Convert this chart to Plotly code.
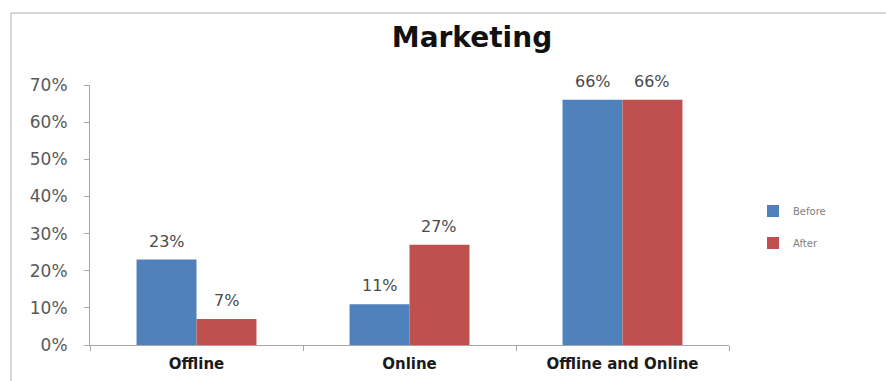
import plotly.graph_objects as go

# Chart data
categories = ["Offline", "Online", "Offline and Online"]
before_values = [0.23, 0.11, 0.66]
after_values = [0.07, 0.27, 0.66]
series_names = ["Before", "After"]
y_ticks = [0.0, 0.1, 0.2, 0.3, 0.4, 0.5, 0.6, 0.7]

BLUE = "#4F81BD"
RED = "#C0504D"
FONT = "DejaVu Sans"

W, H = 886, 381
L, R, T, B = 90, 157, 85, 36
plot_w = W - L - R
plot_h = H - T - B
BARGAP = 0.437


def px_to_paper_x(px):
    return (px - L) / plot_w


def px_to_paper_y(py):
    return (H - B - py) / plot_h


fig = go.Figure()
for name, vals, color in zip(series_names, [before_values, after_values], [BLUE, RED]):
    fig.add_trace(go.Bar(
        x=categories,
        y=vals,
        name=name,
        legendgroup=name,
        marker=dict(color=color, line=dict(width=0)),
        cliponaxis=False,
    ))

# Value labels above each bar, offset to the bar's slot within its group
bar_px = plot_w / len(categories) * (1 - BARGAP) / len(series_names)
for i, vals in enumerate([before_values, after_values]):
    offset = (i - (len(series_names) - 1) / 2) * bar_px
    for cat, v in zip(categories, vals):
        fig.add_annotation(
            x=cat, y=v, xref="x", yref="y",
            text=f"{v:.0%}",
            showarrow=False,
            xshift=offset,
            yanchor="bottom",
            yshift=7,
            font=dict(family=FONT, size=16, color="#4a4a4a"),
        )

fig.update_layout(
    width=W,
    height=H,
    margin=dict(l=L, r=R, t=T, b=B, autoexpand=False),
    paper_bgcolor="white",
    plot_bgcolor="white",
    barmode="group",
    bargap=BARGAP,
    bargroupgap=0,
    title=dict(
        text="<b>Marketing</b>",
        font=dict(family=FONT, size=28, color="#111111"),
        x=472 / W,
        xanchor="center",
        y=1 - 37 / H,
        yanchor="middle",
    ),
    showlegend=True,
    legend=dict(
        x=px_to_paper_x(753),
        y=px_to_paper_y(227),
        xanchor="left",
        yanchor="middle",
        font=dict(family=FONT, size=10, color="#7f7f7f"),
        tracegroupgap=13,
        bgcolor="rgba(0,0,0,0)",
    ),
    xaxis=dict(
        automargin=False,
        showline=True,
        linecolor="#a6a6a6",
        linewidth=1,
        ticks="outside",
        tickson="boundaries",
        ticklen=5,
        tickcolor="#a6a6a6",
        showgrid=False,
        tickfont=dict(family=FONT, size=15, color="#1a1a1a", weight="bold"),
        ticklabelstandoff=5,
    ),
    yaxis=dict(
        automargin=False,
        range=[0, 0.7],
        tickvals=y_ticks,
        tickformat=".0%",
        showline=True,
        linecolor="#a6a6a6",
        linewidth=1,
        ticks="outside",
        ticklen=5,
        tickcolor="#a6a6a6",
        showgrid=False,
        zeroline=False,
        tickfont=dict(family=FONT, size=17, color="#595959"),
        ticklabelstandoff=13,
    ),
)

# Thin frame around the chart area
fig.add_shape(
    type="rect",
    xref="paper", yref="paper",
    x0=px_to_paper_x(11), x1=px_to_paper_x(W + 5),
    y0=px_to_paper_y(H + 5), y1=px_to_paper_y(13),
    line=dict(color="#b0b0b0", width=1),
    fillcolor="rgba(0,0,0,0)",
    layer="below",
)

fig.write_html("out.html")
